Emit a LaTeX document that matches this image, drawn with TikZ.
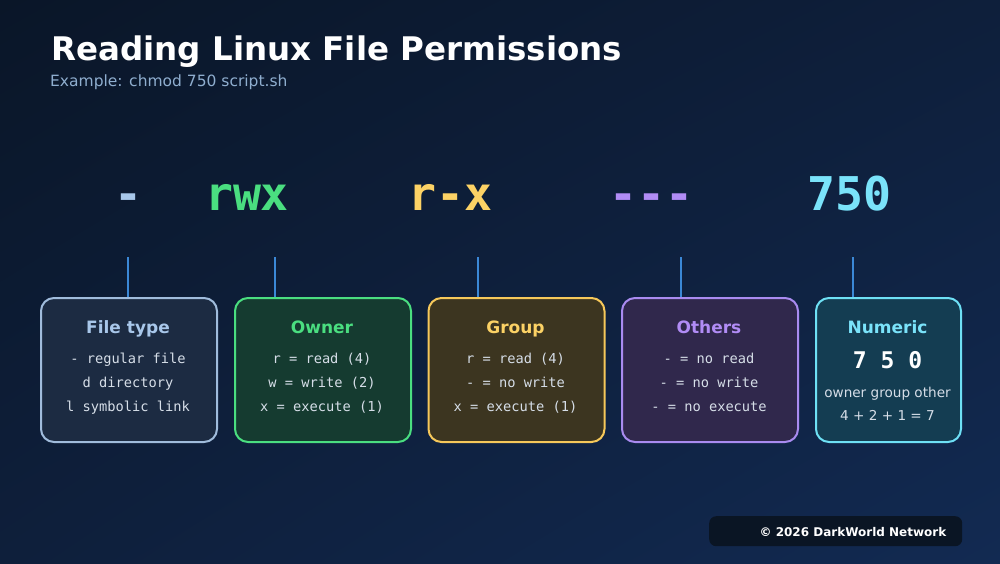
\documentclass[tikz,border=0pt]{standalone}
\usepackage{fontspec}
\usetikzlibrary{shadings}
\setmainfont{DejaVu Sans}
\newfontfamily\monofam{DejaVu Sans Mono}
\definecolor{bgA}{HTML}{0A1628}
\definecolor{bgB}{HTML}{0E1F3B}
\definecolor{bgC}{HTML}{122A52}
\definecolor{subc}{HTML}{8FAECF}
\definecolor{ftype}{HTML}{A8C7EA}
\definecolor{owner}{HTML}{4ADE80}
\definecolor{group}{HTML}{FCD265}
\definecolor{others}{HTML}{B18CF5}
\definecolor{numc}{HTML}{7AE3FA}
\definecolor{conn}{HTML}{3B88D6}
\definecolor{bodyc}{HTML}{D6DEE8}
\definecolor{fillA}{HTML}{1C2B42}
\definecolor{strA}{HTML}{A0BCDC}
\definecolor{fillB}{HTML}{153B30}
\definecolor{strB}{HTML}{4ADE80}
\definecolor{fillC}{HTML}{3C3520}
\definecolor{strC}{HTML}{F6C85A}
\definecolor{fillD}{HTML}{30284C}
\definecolor{strD}{HTML}{A98BF0}
\definecolor{fillE}{HTML}{143D52}
\definecolor{strE}{HTML}{6EE0F5}
\definecolor{footc}{HTML}{0A1524}
\tikzset{
  card/.style={draw, line width=2pt, rounded corners=13pt, minimum height=144pt, inner sep=0pt, anchor=north west},
  bigperm/.style={font=\monofam\bfseries\fontsize{46.5}{46.5}\selectfont, anchor=base},
  cardtitle/.style={font=\bfseries\fontsize{17}{17}\selectfont, anchor=base},
  cardline/.style={font=\monofam\fontsize{13.7}{13.7}\selectfont, text=bodyc, anchor=base},
  connector/.style={draw=conn, line width=2pt},
}
\begin{document}
\begin{tikzpicture}[x=1pt,y=-1pt]
\useasboundingbox (0,0) rectangle (1000,563);
\shade[upper left=bgA, upper right=bgB, lower left=bgB, lower right=bgC] (0,0) rectangle (1000,563);
% titles
\node[anchor=base west, inner sep=0pt, text=white, font=\bfseries\fontsize{32.5}{32.5}\selectfont] (title) at (51,60) {Reading Linux File Permissions};
\node[anchor=base west, inner sep=0pt, text=subc, font=\fontsize{15.5}{15.5}\selectfont] (sub) at (50,86) {Example: chmod 750 script.sh};
% big permission string
\node[bigperm, text=ftype] (pt) at (128,210) {-};
\node[bigperm, text=owner] (po) at (247,210) {rwx};
\node[bigperm, text=group] (pg) at (450,210) {r-x};
\node[bigperm, text=others] (pr) at (651,210) {-{}-{}-};
\node[bigperm, text=numc] (pn) at (849,210) {750};
% connector start points
\coordinate (ct) at (128,257);
\coordinate (co) at (275,257);
\coordinate (cg) at (478,257);
\coordinate (cr) at (681,257);
\coordinate (cn) at (853,257);
% cards
\node[card, fill=fillA, draw=strA, minimum width=176pt] (bt) at (40,297) {};
\node[card, fill=fillB, draw=strB, minimum width=176pt] (bo) at (234,297) {};
\node[card, fill=fillC, draw=strC, minimum width=176pt] (bg) at (427.5,297) {};
\node[card, fill=fillD, draw=strD, minimum width=176pt] (br) at (621,297) {};
\node[card, fill=fillE, draw=strE, minimum width=145pt] (bn) at (815,297) {};
% connectors
\draw[connector] (ct) -- (ct |- bt.north);
\draw[connector] (co) -- (co |- bo.north);
\draw[connector] (cg) -- (cg |- bg.north);
\draw[connector] (cr) -- (cr |- br.north);
\draw[connector] (cn) -- (cn |- bn.north);
% card 1
\node[cardtitle, text=ftype] (t1) at (128,333) {File type};
\node[cardline] (l11) at (128,363) {- regular file};
\node[cardline] (l12) at (128,387) {d directory};
\node[cardline] (l13) at (128,411) {l symbolic link};
% card 2
\node[cardtitle, text=owner] (t2) at (322,333) {Owner};
\node[cardline] (l21) at (322,363) {r = read (4)};
\node[cardline] (l22) at (322,387) {w = write (2)};
\node[cardline] (l23) at (322,411) {x = execute (1)};
% card 3
\node[cardtitle, text=group] (t3) at (515.5,333) {Group};
\node[cardline] (l31) at (515.5,363) {r = read (4)};
\node[cardline] (l32) at (515.5,387) {- = no write};
\node[cardline] (l33) at (515.5,411) {x = execute (1)};
% card 4
\node[cardtitle, text=others] (t4) at (709,333) {Others};
\node[cardline] (l41) at (709,363) {- = no read};
\node[cardline] (l42) at (709,387) {- = no write};
\node[cardline] (l43) at (709,411) {- = no execute};
% card 5
\node[cardtitle, text=numc] (t5) at (887.5,333) {Numeric};
\node[anchor=base, text=white, font=\monofam\bfseries\fontsize{23}{23}\selectfont] (l51) at (887.5,368) {7 5 0};
\node[anchor=base, text=bodyc, font=\fontsize{13.6}{13.6}\selectfont] (l52) at (887.5,397) {owner group other};
\node[anchor=base, text=bodyc, font=\fontsize{13.6}{13.6}\selectfont] (l53) at (887.5,420) {4 + 2 + 1 = 7};
% footer
\node[fill=footc, rounded corners=7pt, minimum width=253pt, minimum height=30pt, inner sep=0pt, anchor=north west] (foot) at (709,516) {};
\node[anchor=base east, inner sep=0pt, text=white, font=\bfseries\fontsize{12}{12}\selectfont] (foottext) at (946.5,536) {© 2026 DarkWorld Network};
\end{tikzpicture}
\end{document}
